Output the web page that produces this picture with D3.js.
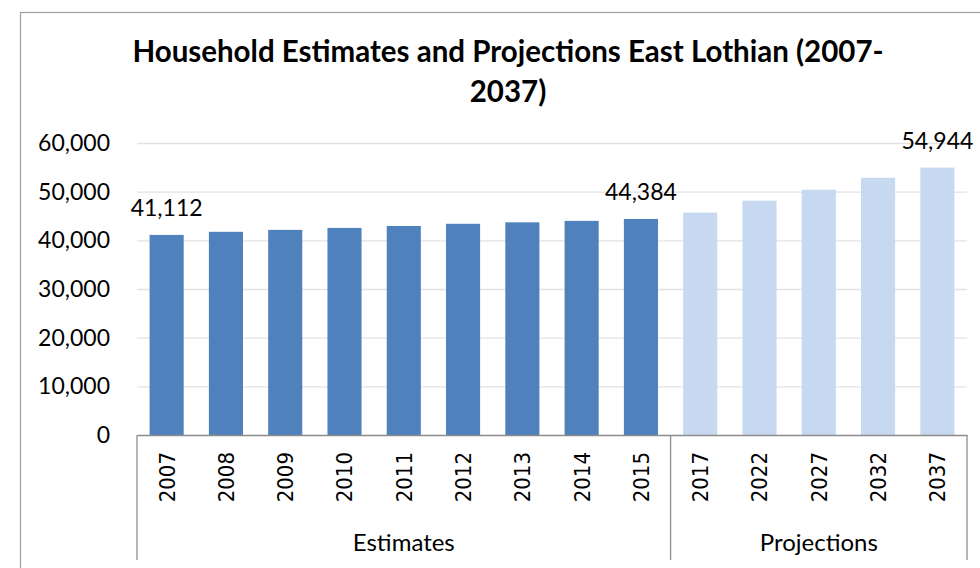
<!DOCTYPE html>
<html>
<head>
<meta charset="utf-8">
<script src="https://cdn.jsdelivr.net/npm/d3@7"></script>
<style>
  html, body { margin: 0; padding: 0; background: #fff; }
  svg { display: block; }
</style>
</head>
<body>
<svg width="980" height="568"></svg>
<script>
(function() {
    'use strict';

    // chart values
    let titleLines = ["Household Estimates and Projections East Lothian (2007-", "2037)"];
    let estimateYears = ["2007", "2008", "2009", "2010", "2011", "2012", "2013", "2014", "2015"];
    let estimateValues = [41112, 41750, 42150, 42550, 42950, 43400, 43700, 44000, 44384];
    let projectionYears = ["2017", "2022", "2027", "2032", "2037"];
    let projectionValues = [45700, 48150, 50400, 52850, 54944];
    let groupNames = ["Estimates", "Projections"];
    let labelledYears = ["2007", "2015", "2037"];
    let yTicks = [0, 10000, 20000, 30000, 40000, 50000, 60000];

    let width = 980;
    let height = 568;
    let svg = d3.select("svg");

    let plotLeft = 137, plotRight = 967, plotTop = 143, plotBottom = 435;
    let estimateColor = "#4F81BD";
    let projectionColor = "#C6D9F1";
    let axisColor = "#8C8C8C";
    let gridColor = "#E3E3E3";
    let labelFont = "Lato, 'Open Sans', sans-serif";

    let rows = [];
    estimateYears.forEach(function(y, i) { rows.push({year: y, value: estimateValues[i], group: groupNames[0]}); });
    projectionYears.forEach(function(y, i) { rows.push({year: y, value: projectionValues[i], group: groupNames[1]}); });

    let xScale = d3.scaleBand()
        .domain(rows.map(function(d) { return d.year; }))
        .range([plotLeft, plotRight])
        .paddingInner(0.425)
        .paddingOuter(0.2125);

    let yScale = d3.scaleLinear()
        .domain([0, 60000])
        .range([plotBottom, plotTop]);

    // outer chart border
    svg.append("rect")
        .attr("x", 20.5).attr("y", 12.5)
        .attr("width", width).attr("height", height)
        .attr("fill", "none")
        .attr("stroke", "#A0A0A0")
        .attr("stroke-width", 1.2);

    // title
    svg.append("g").selectAll("text")
        .data(titleLines)
        .join("text")
        .attr("x", 508)
        .attr("y", function(d, i) { return 62 + i * 40; })
        .attr("text-anchor", "middle")
        .style("font", "bold 29.5px " + labelFont)
        .style("fill", "#000")
        .text(function(d) { return d; });

    // gridlines
    let grid = svg.append("g")
        .attr("transform", `translate(${plotLeft},0)`)
        .call(d3.axisLeft(yScale).tickValues(yTicks.slice(1)).tickSize(-(plotRight - plotLeft)).tickFormat(""));
    grid.select(".domain").remove();
    grid.selectAll("line").attr("stroke", gridColor).attr("stroke-width", 1.3);

    // y axis labels
    let yAxis = svg.append("g")
        .attr("transform", `translate(${plotLeft},0)`)
        .call(d3.axisLeft(yScale).tickValues(yTicks).tickSize(0).tickPadding(27).tickFormat(d3.format(",")));
    yAxis.select(".domain").remove();
    yAxis.selectAll("text")
        .style("font", "23px " + labelFont)
        .style("fill", "#000");

    // bars
    svg.append("g").selectAll("rect")
        .data(rows)
        .join("rect")
        .attr("x", function(d) { return xScale(d.year); })
        .attr("y", function(d) { return yScale(d.value); })
        .attr("width", xScale.bandwidth())
        .attr("height", function(d) { return plotBottom - yScale(d.value); })
        .attr("fill", function(d) { return d.group === groupNames[0] ? estimateColor : projectionColor; });

    // data labels
    svg.append("g").selectAll("text")
        .data(rows.filter(function(d) { return labelledYears.indexOf(d.year) >= 0; }))
        .join("text")
        .attr("x", function(d) { return xScale(d.year) + xScale.bandwidth() / 2; })
        .attr("y", function(d) { return yScale(d.value) - 19; })
        .attr("text-anchor", "middle")
        .style("font", "23px " + labelFont)
        .style("fill", "#000")
        .text(function(d) { return d3.format(",")(d.value); });

    // x axis with rotated year labels
    let xAxis = svg.append("g")
        .attr("transform", `translate(0,${plotBottom})`)
        .call(d3.axisBottom(xScale).tickSize(0).tickSizeOuter(0));
    xAxis.select(".domain").attr("stroke", axisColor).attr("stroke-width", 1.3);
    xAxis.selectAll("text")
        .attr("transform", "translate(0,17)rotate(-90)")
        .attr("x", 0).attr("y", 0).attr("dy", "0.36em")
        .attr("text-anchor", "end")
        .style("font-family", "'DejaVu Sans Condensed', 'DejaVu Sans', sans-serif")
        .style("font-stretch", "condensed")
        .style("font-size", "22px")
        .style("fill", "#000");

    // group brackets and names
    let gap = xScale.step() - xScale.bandwidth();
    let groups = [
        {name: groupNames[0], years: estimateYears},
        {name: groupNames[1], years: projectionYears}
    ].map(function(g) {
        return {
            name: g.name,
            x0: xScale(g.years[0]) - gap / 2,
            x1: xScale(g.years[g.years.length - 1]) + xScale.bandwidth() + gap / 2
        };
    });
    let edges = [groups[0].x0, groups[0].x1, groups[1].x1];
    svg.append("g").selectAll("line")
        .data(edges)
        .join("line")
        .attr("x1", function(d) { return d; })
        .attr("x2", function(d) { return d; })
        .attr("y1", plotBottom)
        .attr("y2", 560)
        .attr("stroke", axisColor)
        .attr("stroke-width", 1.3);

    svg.append("g").selectAll("text")
        .data(groups)
        .join("text")
        .attr("x", function(d) { return (d.x0 + d.x1) / 2; })
        .attr("y", 551)
        .attr("text-anchor", "middle")
        .style("font", "24px " + labelFont)
        .style("fill", "#000")
        .text(function(d) { return d.name; });
})();
</script>
</body>
</html>
